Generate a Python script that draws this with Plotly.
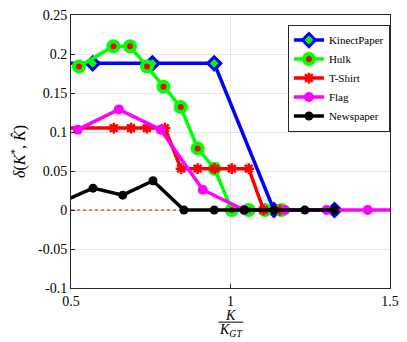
import plotly.graph_objects as go

# values
kinect_x = [0.38, 0.568, 0.755, 0.949, 1.136, 1.326]
kinect_y = [0.188, 0.188, 0.188, 0.188, 0.0, 0.0]

hulk_x = [0.525, 0.633, 0.685, 0.738, 0.790, 0.844, 0.897, 0.950, 1.004, 1.057, 1.108, 1.160]
hulk_y = [0.184, 0.210, 0.210, 0.184, 0.158, 0.132, 0.079, 0.053, 0.0, 0.0, 0.0, 0.0]

tshirt_x = [0.47, 0.634, 0.688, 0.738, 0.794, 0.845, 0.897, 0.950, 1.004, 1.057, 1.104, 1.155]
tshirt_y = [0.105, 0.105, 0.105, 0.105, 0.105, 0.053, 0.053, 0.053, 0.053, 0.053, 0.0, 0.0]

flag_x = [0.521, 0.650, 0.781, 0.913, 1.043, 1.171, 1.301, 1.43, 1.56]
flag_y = [0.103, 0.129, 0.103, 0.026, 0.0, 0.0, 0.0, 0.0, 0.0]

news_x = [0.474, 0.569, 0.662, 0.757, 0.854, 0.949, 1.043, 1.136, 1.233, 1.326]
news_y = [0.011, 0.028, 0.019, 0.0375, 0.0, 0.0, 0.0, 0.0, 0.0, 0.0]

y_ticks = [-0.1, -0.05, 0, 0.05, 0.1, 0.15, 0.2, 0.25]
y_labels = ["-0.1", "-0.05", "0", "0.05", "0.1", "0.15", "0.2", "0.25"]
x_ticks = [0.5, 1, 1.5]
x_labels = ["0.5", "1", "1.5"]

serif = "Liberation Serif"

fig = go.Figure()

# thin red dotted zero line
fig.add_trace(go.Scatter(x=[0.5, 1.5], y=[0, 0], mode="lines", showlegend=False,
                         line=dict(color="red", width=1, dash="dot"), hoverinfo="skip"))

fig.add_trace(go.Scatter(x=kinect_x, y=kinect_y, name="KinectPaper", mode="lines+markers",
                         line=dict(color="#0000ff", width=3.5),
                         marker=dict(symbol="diamond", size=10, color="#00ff00",
                                     line=dict(color="#0000ff", width=3))))
fig.add_trace(go.Scatter(x=hulk_x, y=hulk_y, name="Hulk", mode="lines+markers",
                         line=dict(color="#00ff00", width=3.5),
                         marker=dict(symbol="circle", size=10, color="#ff0000",
                                     line=dict(color="#00ff00", width=4))))
fig.add_trace(go.Scatter(x=tshirt_x, y=tshirt_y, name="T-Shirt", mode="lines+markers",
                         line=dict(color="#ff0000", width=3.5),
                         marker=dict(symbol="asterisk-open", size=9, color="#ff0000",
                                     line=dict(color="#ff0000", width=2.5))))
fig.add_trace(go.Scatter(x=flag_x, y=flag_y, name="Flag", mode="lines+markers",
                         line=dict(color="#ff00ff", width=3.5),
                         marker=dict(symbol="circle", size=10, color="#ff00ff")))
fig.add_trace(go.Scatter(x=news_x, y=news_y, name="Newspaper", mode="lines+markers",
                         line=dict(color="#000000", width=3.5),
                         marker=dict(symbol="circle", size=9, color="#000000")))

# x label drawn as a fraction K / K_GT
fig.add_annotation(x=0.5, y=-0.099, xref="paper", yref="paper", showarrow=False,
                   yanchor="middle", text="<i>K</i>",
                   font=dict(family=serif, size=14, color="black"))
fig.add_annotation(x=0.5, y=-0.156, xref="paper", yref="paper", showarrow=False,
                   yanchor="middle", text="<i>K</i><sub><i>GT</i></sub>",
                   font=dict(family=serif, size=14, color="black"))
fig.add_shape(type="line", xref="paper", yref="paper", x0=0.462, x1=0.540, y0=-0.125, y1=-0.125,
              line=dict(color="black", width=1))

fig.update_layout(
    width=407, height=342,
    margin=dict(l=71, r=14, t=8, b=54),
    paper_bgcolor="white", plot_bgcolor="white",
    font=dict(family=serif, size=14, color="black"),
    legend=dict(x=0.68, y=0.965, xanchor="left", yanchor="top",
                bgcolor="white", bordercolor="#262626", borderwidth=1,
                font=dict(family=serif, size=11), itemwidth=30, tracegroupgap=0),
    xaxis=dict(range=[0.5, 1.5], tickvals=x_ticks, ticktext=x_labels,
               showgrid=True, gridcolor="#e6e6e6", zeroline=False,
               showline=True, linecolor="#262626", mirror=True,
               ticks="inside", ticklen=4, tickcolor="#262626"),
    yaxis=dict(range=[-0.1, 0.25], tickvals=y_ticks, ticktext=y_labels,
               showgrid=True, gridcolor="#e6e6e6", zeroline=False,
               showline=True, linecolor="#262626", mirror=True,
               ticks="inside", ticklen=4, tickcolor="#262626",
               title=dict(text="<i>δ</i>(<i>K</i><sup>*</sup>, <i>K\u0302</i>)",
                          font=dict(family=serif, size=16), standoff=8)),
)

fig.write_html("out.html", config={"displayModeBar": False},
               post_script="document.body.style.margin='0';")
